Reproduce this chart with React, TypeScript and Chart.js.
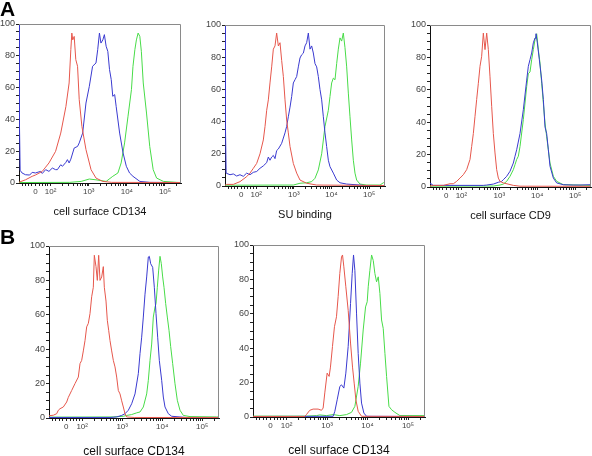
import React, { useEffect, useRef } from 'react';
import { Chart, registerables } from 'chart.js';
Chart.register(...registerables);

type Pt = [number, number];

// x positions are in display decades (2 = 10^2, 3 = 10^3 ...), y = % of max
const X_MIN = 1.17;
const X_MAX = 5.42;
const X_TICK_VALUES = [1.6, 2, 3, 4, 5];
const X_TICK_LABELS = ['0', '10²', '10³', '10⁴', '10⁵'];
const X_LOW_MINOR = [1.26, 1.34, 1.42, 1.5, 1.7, 1.78, 1.86, 1.93];
const Y_LABEL_STEP = 20;

const A1_RED: Pt[] = [[1.17,0.5],[1.34,2],[1.515,4.2],[1.6,5],[1.78,7.3],[1.87,10],[1.956,12.6],[2.13,19.9],[2.265,31.4],[2.40,48],[2.485,62.9],[2.53,83.9],[2.556,94.3],[2.58,90],[2.618,92.2],[2.66,77.6],[2.706,73.4],[2.75,52.4],[2.82,35.6],[2.927,21],[3.06,8.4],[3.19,3.1],[3.37,1],[3.6,0.4],[5.42,0.3]];
const A1_BLUE: Pt[] = [[1.172,102],[1.18,40],[1.2,8],[1.25,6.3],[1.34,5.2],[1.45,5],[1.515,6.7],[1.6,6.3],[1.735,7.3],[1.78,6],[1.87,8.4],[1.956,7.3],[2.044,9.4],[2.13,8.4],[2.177,8.4],[2.265,11.5],[2.31,10.5],[2.40,13],[2.44,14.7],[2.485,12.6],[2.53,15],[2.618,22],[2.706,23],[2.75,25.2],[2.84,31.4],[2.927,50.3],[3.015,60.8],[3.10,73.4],[3.19,75.5],[3.235,83.9],[3.28,94.3],[3.32,88],[3.37,90],[3.41,93.3],[3.456,86],[3.50,82.8],[3.545,71.3],[3.59,65],[3.63,54.5],[3.68,55.6],[3.72,48],[3.81,31.4],[3.90,18.9],[3.986,10.5],[4.07,6.3],[4.16,4.2],[4.34,1],[4.6,0.4],[5.42,0.3]];
const A1_GREEN: Pt[] = [[1.17,0.3],[2.5,0.4],[2.8,1],[3.015,2.5],[3.19,2],[3.456,1],[3.63,4.2],[3.765,6.3],[3.85,12.6],[3.94,25.2],[4.03,42],[4.12,58.7],[4.16,73.4],[4.21,83.9],[4.25,90],[4.295,94.3],[4.34,92.2],[4.38,82.8],[4.43,62.9],[4.515,44],[4.60,23],[4.69,8.4],[4.78,3.1],[4.96,1],[5.31,0.4],[5.42,0.3]];

const A2_RED: Pt[] = [[1.17,0.4],[1.214,1],[1.391,1],[1.568,2.7],[1.745,5.8],[1.834,8],[1.923,11],[2.011,14],[2.10,20],[2.188,28.6],[2.233,37],[2.277,47],[2.321,53.5],[2.365,64],[2.41,74],[2.454,85],[2.498,87],[2.542,95],[2.587,87],[2.631,89],[2.675,78],[2.72,68],[2.764,53.5],[2.808,41],[2.852,33],[2.897,24.5],[2.985,14],[3.074,8],[3.162,3.7],[3.339,1.7],[3.605,0.6],[5.42,0.3]];
const A2_BLUE: Pt[] = [[1.172,102],[1.18,40],[1.2,8],[1.214,8],[1.303,7],[1.391,7.5],[1.48,6.2],[1.568,7],[1.657,6],[1.745,8],[1.834,7],[1.923,8.5],[2.011,9],[2.10,11],[2.188,12.5],[2.277,14.5],[2.321,18],[2.365,16],[2.41,18],[2.454,19],[2.498,17],[2.542,22],[2.587,23],[2.675,26.5],[2.764,33],[2.808,37],[2.852,43],[2.897,49],[2.941,55.6],[2.985,64],[3.029,66],[3.074,68],[3.118,74],[3.162,79.5],[3.206,81.5],[3.251,82.5],[3.295,87],[3.339,89],[3.384,95],[3.428,85],[3.472,87],[3.516,82.6],[3.561,76],[3.605,74],[3.649,68],[3.693,60],[3.738,53.5],[3.782,43],[3.826,33],[3.87,24.5],[3.915,16],[3.959,12],[4.048,8],[4.136,3.7],[4.225,2],[4.402,1.2],[4.756,0.6],[4.9,0.3],[5.42,0.3]];
const A2_GREEN: Pt[] = [[1.17,0.5],[2.985,0.6],[3.162,1.7],[3.339,2],[3.472,2.7],[3.561,4.8],[3.649,10],[3.738,20],[3.826,37],[3.915,47],[3.959,55.6],[4.003,64],[4.048,67],[4.092,66],[4.136,76],[4.18,85],[4.225,92],[4.269,90],[4.313,95],[4.357,86],[4.402,74],[4.446,57.7],[4.49,43],[4.535,28.6],[4.579,16],[4.623,8],[4.667,3.7],[4.756,1.2],[4.933,0.6],[5.287,0.6],[5.376,2],[5.42,2.5]];

const A3_RED: Pt[] = [[1.17,0.5],[1.258,1],[1.522,1],[1.698,2],[1.786,2],[1.874,3.5],[1.962,5.5],[2.05,7.6],[2.138,10.7],[2.226,17],[2.27,25],[2.314,33],[2.358,43.6],[2.402,54],[2.446,64],[2.49,74.5],[2.534,80.7],[2.578,95],[2.622,84.8],[2.666,95],[2.71,84.8],[2.754,68],[2.798,49.8],[2.842,33],[2.886,21],[2.93,10.7],[2.974,5.5],[3.018,3.5],[3.106,2.5],[3.37,1],[3.546,0.5],[5.42,0.4]];
const A3_BLUE: Pt[] = [[1.17,2.5],[1.188,2],[1.258,1],[2.578,1],[2.666,1.2],[2.842,1.8],[2.974,2.9],[3.062,3.5],[3.106,4.5],[3.194,6.6],[3.282,9.7],[3.37,14.8],[3.414,19],[3.458,23],[3.546,33],[3.634,47.7],[3.722,66],[3.766,74.5],[3.81,78.6],[3.854,82.7],[3.898,89],[3.942,92],[3.968,94.6],[4.004,88.9],[4.056,78.6],[4.118,66],[4.162,54],[4.206,37],[4.25,33],[4.294,23],[4.338,12.8],[4.426,5.5],[4.514,2.5],[4.69,1.4],[4.954,1.2],[5.13,1.2],[5.394,1.4],[5.42,1.4]];
const A3_GREEN: Pt[] = [[1.17,0.5],[2.842,0.6],[3.018,1.2],[3.106,1.8],[3.194,3.5],[3.282,6.6],[3.37,10.7],[3.414,13.8],[3.458,17],[3.502,19],[3.546,25],[3.634,41.6],[3.722,62],[3.766,70],[3.81,71],[3.854,78.6],[3.898,84.8],[3.942,91],[3.986,94.6],[4.03,84.8],[4.074,76.5],[4.118,64],[4.162,51.8],[4.206,39.5],[4.25,31],[4.338,14.8],[4.426,6.6],[4.514,3.5],[4.69,1.4],[5.394,1],[5.42,1]];

const B1_RED: Pt[] = [[1.17,1.2],[1.195,1.4],[1.278,1.6],[1.362,2.5],[1.403,4.5],[1.445,5.4],[1.528,6.4],[1.612,9.3],[1.653,12],[1.737,16],[1.82,20],[1.903,23.8],[1.945,31.6],[1.987,33.5],[2.028,39],[2.07,45],[2.112,53],[2.153,55],[2.195,60.7],[2.237,70.5],[2.278,76],[2.303,94.6],[2.345,88],[2.378,80],[2.412,94.6],[2.445,80],[2.487,82],[2.528,88],[2.553,76],[2.595,68],[2.628,56.8],[2.662,51],[2.695,45],[2.737,39],[2.778,33.5],[2.82,29.7],[2.862,23.8],[2.903,16],[2.945,14],[2.987,10],[3.028,6.4],[3.07,2.5],[3.112,0.6],[3.3,0.3],[5.42,0.3]];
const B1_BLUE: Pt[] = [[1.17,0.3],[2.695,0.3],[2.862,0.6],[2.987,1.5],[3.07,2.5],[3.153,4.5],[3.237,8.3],[3.32,14],[3.403,25.8],[3.445,37.4],[3.487,47],[3.528,58.7],[3.57,72],[3.612,82],[3.653,93.6],[3.678,94],[3.712,89.7],[3.762,87.6],[3.803,76],[3.845,60.7],[3.887,47],[3.928,33.5],[3.987,21.9],[4.028,12.2],[4.07,6.4],[4.153,2.5],[4.237,1],[4.445,0.6],[4.6,0.3],[5.42,0.3]];
const B1_GREEN: Pt[] = [[1.17,0.5],[2.778,0.6],[3.028,1],[3.112,1.5],[3.237,2],[3.362,3],[3.445,3.5],[3.528,6.4],[3.612,14],[3.653,21.9],[3.695,33.5],[3.737,43],[3.778,58.7],[3.82,64.5],[3.845,66.5],[3.878,76],[3.912,86],[3.945,94],[3.978,89.7],[4.012,82],[4.045,76],[4.087,66.5],[4.128,58.7],[4.17,51],[4.212,41.5],[4.262,31.6],[4.32,19.9],[4.378,10.3],[4.445,4.5],[4.528,1.5],[4.695,0.8],[5.362,0.6],[5.42,0.6]];

const B2_RED: Pt[] = [[1.17,0.3],[2.449,0.3],[2.49,1.4],[2.573,3.9],[2.655,4.6],[2.779,4.6],[2.862,3.9],[2.903,5.2],[2.944,14],[3.002,25.5],[3.051,23.6],[3.084,29],[3.134,41],[3.183,52.5],[3.233,58.3],[3.274,70],[3.315,83.4],[3.357,93],[3.382,94.2],[3.415,87.3],[3.464,75.7],[3.522,62],[3.58,43],[3.629,29],[3.67,19.7],[3.712,10],[3.769,3.3],[3.852,0.4],[5.42,0.3]];
const B2_BLUE: Pt[] = [[1.17,0.3],[3.15,0.4],[3.192,3.3],[3.25,10],[3.316,17.8],[3.357,18.7],[3.415,16.8],[3.464,25.5],[3.522,41],[3.58,66],[3.621,83.4],[3.654,94.2],[3.687,85.3],[3.728,60.4],[3.769,37],[3.811,19.7],[3.852,8.1],[3.91,2.3],[3.976,0.4],[5.42,0.3]];
const B2_GREEN: Pt[] = [[1.17,0.5],[2.49,0.5],[2.738,0.8],[2.82,1.2],[2.985,0.8],[3.15,1.4],[3.316,0.8],[3.481,1.4],[3.604,2.7],[3.687,6.2],[3.769,17.8],[3.827,31.3],[3.893,50.6],[3.951,64],[3.992,67],[4.017,75.7],[4.058,85.3],[4.1,94.2],[4.141,91],[4.182,83.4],[4.223,78.6],[4.265,81.5],[4.306,71.8],[4.347,56.4],[4.388,51.5],[4.43,37],[4.471,23.6],[4.529,6.2],[4.595,4.2],[4.677,2.7],[4.801,0.8],[5.296,0.8],[5.42,0.8]];

const RED = '#e6574c';
const BLUE = '#3a3ad0';
const GREEN = '#48dc48';
const FONT = "Arial, 'Liberation Sans', 'DejaVu Sans', sans-serif";

const X_ALL_TICKS: number[] = (() => {
  const t: number[] = [...X_TICK_VALUES, ...X_LOW_MINOR];
  for (let d = 2; d <= 5; d++) {
    for (let k = 2; k <= 9; k++) {
      const v = d + Math.log10(k);
      if (v < X_MAX) t.push(v);
    }
  }
  return t.sort((a, b) => a - b);
})();

interface PanelCfg {
  left: number; top: number; w: number; h: number; // chart area box
  yW: number; xH: number; padR: number;
  title: string; titleSize: number;
  red: Pt[]; blue: Pt[]; green: Pt[];
}

const PAD_TOP = 8;

const PANELS: PanelCfg[] = [
  { left: 19, top: 24, w: 162, h: 159, yW: 19, xH: 36, padR: 4, title: 'cell surface CD134', titleSize: 11, red: A1_RED, blue: A1_BLUE, green: A1_GREEN },
  { left: 225, top: 25, w: 160, h: 161, yW: 22, xH: 36, padR: 4, title: 'SU binding', titleSize: 11, red: A2_RED, blue: A2_BLUE, green: A2_GREEN },
  { left: 430, top: 25, w: 161, h: 162, yW: 24, xH: 36, padR: 1, title: 'cell surface CD9', titleSize: 11, red: A3_RED, blue: A3_BLUE, green: A3_GREEN },
  { left: 49, top: 246, w: 170, h: 172, yW: 26, xH: 41, padR: 4, title: 'cell surface CD134', titleSize: 12, red: B1_RED, blue: B1_BLUE, green: B1_GREEN },
  { left: 253, top: 245, w: 172, h: 172, yW: 24, xH: 41, padR: 4, title: 'cell surface CD134', titleSize: 12, red: B2_RED, blue: B2_BLUE, green: B2_GREEN },
];

const framePlugin = {
  id: 'frame',
  afterDatasetsDraw(chart: any) {
    const { ctx, chartArea: a } = chart;
    ctx.save();
    ctx.strokeStyle = '#8a8a8a';
    ctx.lineWidth = 1;
    ctx.beginPath();
    ctx.moveTo(Math.round(a.left), Math.round(a.top) + 0.5);
    ctx.lineTo(Math.round(a.right) - 0.5, Math.round(a.top) + 0.5);
    ctx.lineTo(Math.round(a.right) - 0.5, Math.round(a.bottom));
    ctx.stroke();
    ctx.restore();
  },
};

function Panel({ cfg }: { cfg: PanelCfg }) {
  const ref = useRef<HTMLCanvasElement>(null);
  const cw = cfg.yW + cfg.w + cfg.padR;
  const ch = PAD_TOP + cfg.h + cfg.xH;
  useEffect(() => {
    const mk = (pts: Pt[], color: string) => ({
      data: pts.map(([x, y]) => ({ x, y })),
      borderColor: color,
      borderWidth: 1,
      pointRadius: 0,
      tension: 0,
      fill: false,
    });
    const chart = new Chart(ref.current as HTMLCanvasElement, {
      type: 'line',
      data: { datasets: [mk(cfg.red, RED), mk(cfg.blue, BLUE), mk(cfg.green, GREEN)] as any },
      options: {
        animation: false,
        responsive: false,
        devicePixelRatio: 1,
        layout: { padding: { top: PAD_TOP, right: cfg.padR, left: 0, bottom: 0 } },
        plugins: { legend: { display: false }, tooltip: { enabled: false } },
        scales: {
          x: {
            type: 'linear',
            min: X_MIN,
            max: X_MAX,
            afterBuildTicks: (s: any) => { s.ticks = X_ALL_TICKS.map((v) => ({ value: v })); },
            afterFit: (s: any) => { s.height = cfg.xH; },
            ticks: {
              autoSkip: false,
              maxRotation: 0,
              padding: 1,
              color: '#444',
              font: { family: FONT, size: 8 },
              callback: (v: any) => {
                const i = X_TICK_VALUES.findIndex((t) => Math.abs(t - Number(v)) < 1e-6);
                return i >= 0 ? X_TICK_LABELS[i] : '';
              },
            },
            grid: { drawOnChartArea: false, drawTicks: true, tickLength: 3, color: '#222' },
            border: { display: true, color: '#111', width: 1 },
            title: { display: true, text: cfg.title, color: '#111', padding: 0, font: { family: FONT, size: cfg.titleSize } },
          },
          y: {
            type: 'linear',
            min: 0,
            max: 100,
            afterFit: (s: any) => { s.width = cfg.yW; },
            ticks: {
              stepSize: 5,
              autoSkip: false,
              padding: 1,
              color: '#444',
              font: { family: FONT, size: 9 },
              callback: (v: any) => (Number(v) % Y_LABEL_STEP === 0 ? String(v) : ''),
            },
            grid: { drawOnChartArea: false, drawTicks: true, tickLength: 3, color: '#222' },
            border: { display: true, color: '#111', width: 1 },
          },
        },
      } as any,
      plugins: [framePlugin],
    });
    return () => chart.destroy();
  }, []);
  return (
    <canvas
      ref={ref}
      width={cw}
      height={ch}
      style={{ position: 'absolute', left: cfg.left - cfg.yW, top: cfg.top - PAD_TOP, width: cw, height: ch }}
    />
  );
}

export default function App() {
  return (
    <div style={{ position: 'fixed', left: 0, top: 0, width: 592, height: 456, overflow: 'hidden', background: '#fff' }}>
      {PANELS.map((p, i) => (
        <Panel key={i} cfg={p} />
      ))}
      <div style={{ position: 'absolute', left: 0, top: -3, fontFamily: FONT, fontWeight: 'bold', fontSize: 21, lineHeight: '24px' }}>A</div>
      <div style={{ position: 'absolute', left: 0, top: 225, fontFamily: FONT, fontWeight: 'bold', fontSize: 21, lineHeight: '24px' }}>B</div>
    </div>
  );
}
